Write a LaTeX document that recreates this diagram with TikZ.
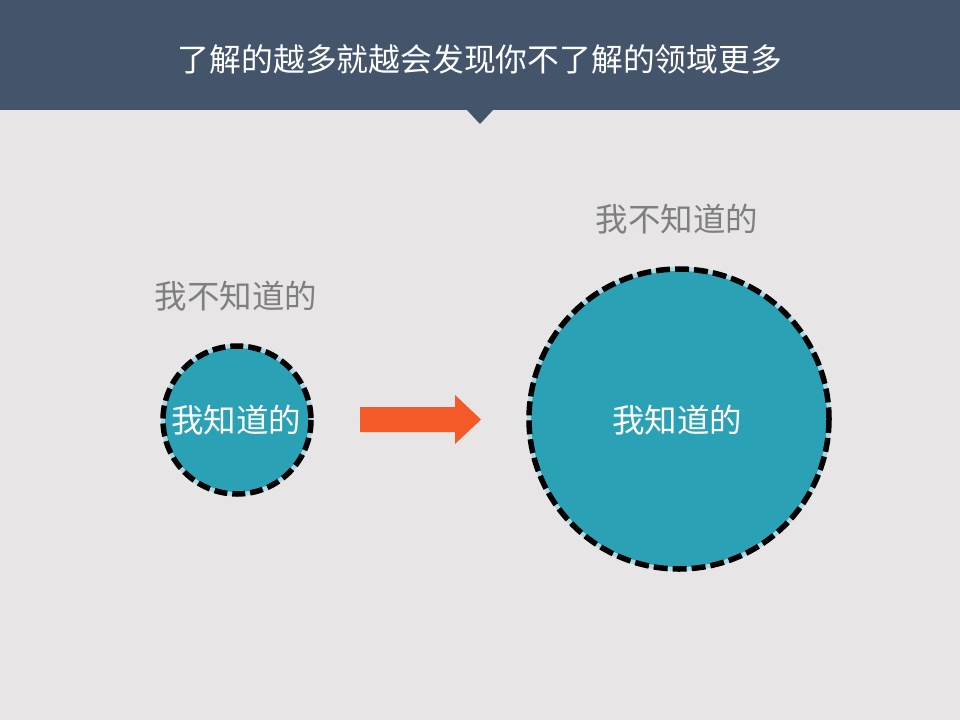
\documentclass[tikz,border=0pt]{standalone}
\usepackage{fontspec}
\newfontfamily\cjk{Noto Sans CJK SC}
\definecolor{bgc}{HTML}{E7E5E6}
\definecolor{hdr}{HTML}{44546A}
\definecolor{teal}{HTML}{2BA1B6}
\definecolor{gapc}{HTML}{A8D8E4}
\definecolor{arr}{HTML}{F45A27}
\definecolor{lbl}{HTML}{7F7F7F}
\tikzset{
  circ/.style={circle, fill=teal, inner sep=0pt},
  gapline/.style={draw=gapc, line width=4pt},
  dashline/.style={draw=black, line width=5.5pt, dash pattern=on 13pt off 5pt},
  inner/.style={text=white, font=\cjk\fontsize{32.5}{38}\selectfont},
  outer/.style={text=lbl, font=\cjk\fontsize{32.5}{38}\selectfont},
}
\begin{document}
\begin{tikzpicture}[x=1pt,y=-1pt]
\useasboundingbox (0,0) rectangle (960,720);
\fill[bgc] (0,0) rectangle (960,720);
\fill[hdr] (0,0) rectangle (960,110);
\fill[hdr] (466,109) -- (494,109) -- (480,124) -- cycle;
\node[text=white, font=\cjk\fontsize{31.8}{36}\selectfont] (title) at (480,59) {了解的越多就越会发现你不了解的领域更多};
% small circle
\node[circ, minimum size=148pt] (small) at (237,420) {};
\draw[gapline] (small.center) circle (74);
\draw[dashline] (small.center) circle (74);
\node[inner] (smalltext) at (236,420) {我知道的};
\node[outer] (smalllabel) at (236,296) {我不知道的};
% big circle
\node[circ, minimum size=300pt] (big) at (679,419) {};
\draw[gapline] (big.center) circle (150);
\draw[dashline, dash pattern=on 14pt off 5pt] (big.center) circle (150);
\node[inner] (bigtext) at (677,420) {我知道的};
\node[outer] (biglabel) at (677,219) {我不知道的};
% arrow
\fill[arr] (360,407) -- (455,407) -- (455,395) -- (481,419.5) -- (455,444) -- (455,432) -- (360,432) -- cycle;
\end{tikzpicture}
\end{document}
